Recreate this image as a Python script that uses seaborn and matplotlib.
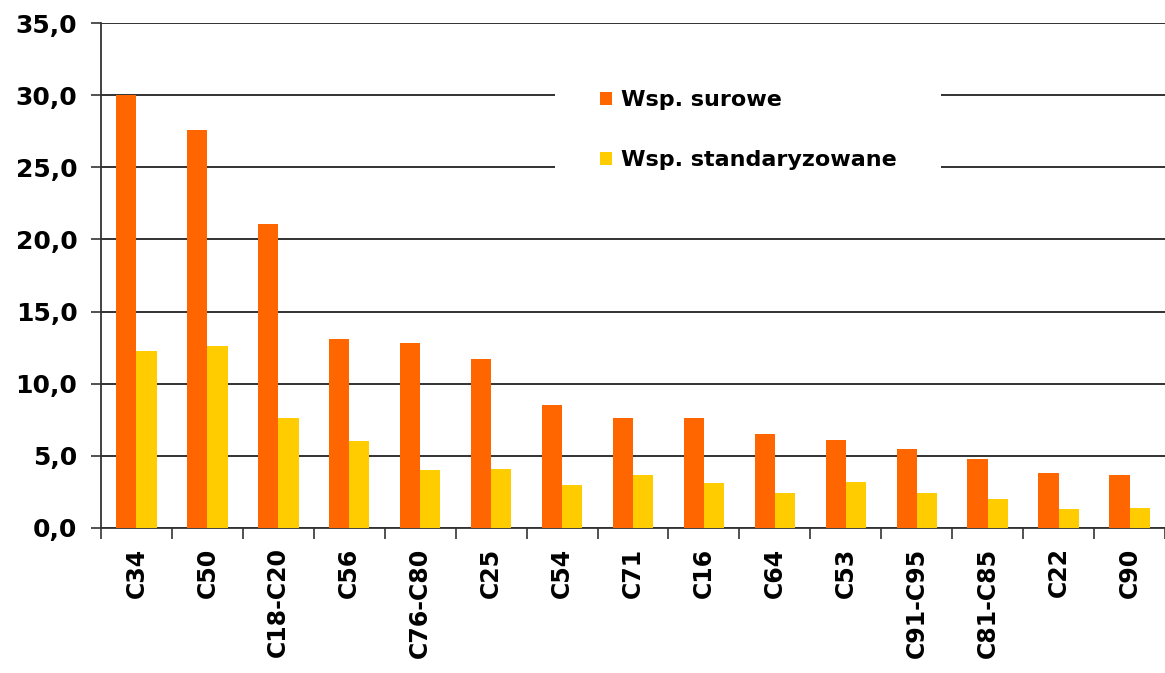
import pandas as pd
import matplotlib
matplotlib.use('Agg')
import matplotlib.pyplot as plt
import seaborn as sns
from matplotlib.ticker import FuncFormatter, FixedLocator

# Dane
kody = ['C34', 'C50', 'C18-C20', 'C56', 'C76-C80', 'C25', 'C54', 'C71',
        'C16', 'C64', 'C53', 'C91-C95', 'C81-C85', 'C22', 'C90']
wsp_surowe = [30.0, 27.6, 21.1, 13.1, 12.8, 11.7, 8.5, 7.6,
              7.6, 6.5, 6.1, 5.5, 4.8, 3.8, 3.7]
wsp_standaryzowane = [12.3, 12.6, 7.6, 6.0, 4.0, 4.1, 3.0, 3.7,
                      3.1, 2.4, 3.2, 2.4, 2.0, 1.3, 1.4]
serie = ['Wsp. surowe', 'Wsp. standaryzowane']
kolory = ['#FF6600', '#FFCC00']

df = pd.DataFrame({
    'kod': kody * 2,
    'wartosc': wsp_surowe + wsp_standaryzowane,
    'wsp': [serie[0]] * len(kody) + [serie[1]] * len(kody),
})

sns.set_style('white')
plt.rcParams['font.family'] = ['DejaVu Sans']
plt.rcParams['text.color'] = 'black'

fig = plt.figure(figsize=(11.65, 6.73), dpi=100)
ax = fig.add_axes([0.0867, 0.2155, 0.9133, 0.7503])

sns.barplot(data=df, x='kod', y='wartosc', hue='wsp', palette=kolory,
            saturation=1, width=0.57, gap=0, ax=ax, zorder=3,
            edgecolor='none')

ax.set_ylim(0, 35)
ax.set_xlim(-0.5, len(kody) - 0.5)
ax.set_yticks(range(0, 36, 5))
ax.yaxis.set_major_formatter(FuncFormatter(lambda v, p: f'{v:.1f}'.replace('.', ',')))
ax.yaxis.grid(True, color='#222222', linewidth=1.3, zorder=0)
ax.set_axisbelow(True)

# podziałki osi X między kategoriami
ax.xaxis.set_minor_locator(FixedLocator([i - 0.5 for i in range(len(kody) + 1)]))
ax.tick_params(axis='x', which='major', length=0, pad=14, labelcolor='black')
ax.tick_params(axis='x', which='minor', length=8, width=1.2, color='#333333',
               direction='out', bottom=True)
ax.tick_params(axis='y', length=7, width=1.2, color='#333333', direction='out',
               left=True, pad=10, labelcolor='black')
plt.setp(ax.get_xticklabels(), rotation=90, fontsize=17, fontweight='bold')
plt.setp(ax.get_yticklabels(), fontsize=18, fontweight='bold')

for s in ['top', 'right']:
    ax.spines[s].set_visible(False)
for s in ['left', 'bottom']:
    ax.spines[s].set_color('#333333')
    ax.spines[s].set_linewidth(1.3)

ax.set_xlabel('')
ax.set_ylabel('')

leg = ax.legend(loc='upper left', bbox_to_anchor=(0.427, 0.955), frameon=True,
                facecolor='white', edgecolor='none', framealpha=1,
                prop={'weight': 'bold', 'size': 16}, handlelength=0.55,
                handleheight=0.55, handletextpad=0.4, labelspacing=1.8,
                borderpad=2.0, borderaxespad=0)
leg.set_zorder(5)

plt.savefig('out.png', dpi=100)
